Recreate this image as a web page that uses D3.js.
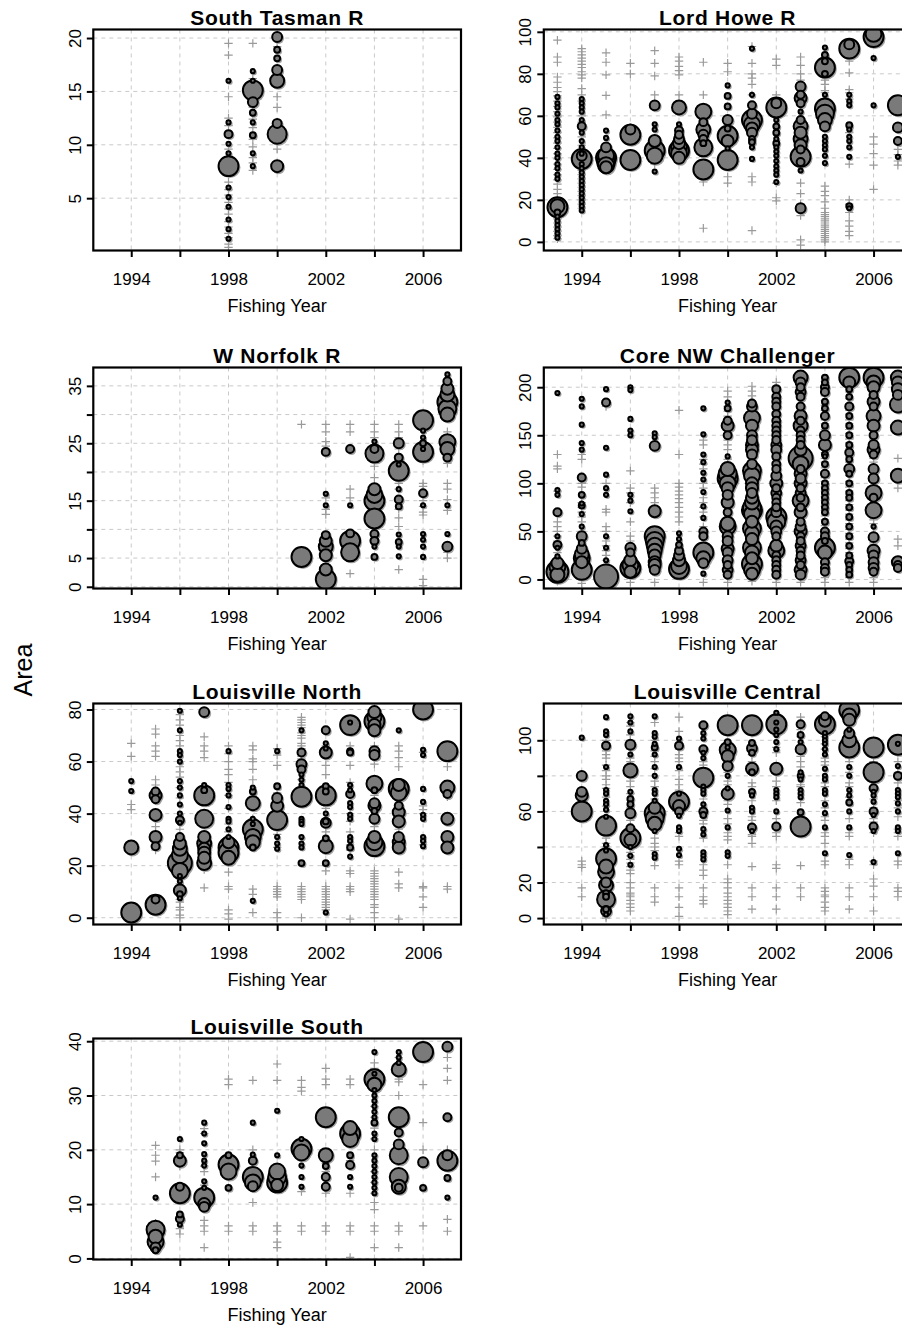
<!DOCTYPE html>
<html>
<head>
<meta charset="utf-8">
<script src="https://cdn.jsdelivr.net/npm/d3@7"></script>
<style>
  html, body { margin: 0; padding: 0; background: #fff; }
  svg { display: block; }
  text { font-family: "Liberation Sans", Arial, Helvetica, sans-serif; fill: #000; }
</style>
</head>
<body>
<svg id="chart" width="902" height="1329"></svg>
<script>
// ---- shared axis values -------------------------------------------------
const yearDomain = [1992.44, 2007.56];
const yearTicks = [1994, 1996, 1998, 2000, 2002, 2004, 2006];
const yearLabels = [1994, 1998, 2002, 2006];

// ---- South Tasman R -----------------------------------------------------
const southTasmanY = [0.1, 20.8];
const southTasmanTicks = [5, 10, 15, 20];
const southTasmanLabels = [5, 10, 15, 20];
const southTasmanPlus = [
  [1998, [19.5, 18.4, 14.5, 12.5, 11.8, 9.6, 8.8, 7.2, 6.5, 5.8, 5.3, 4.6, 4.0, 3.5, 2.8, 2.3, 1.7, 1.3, 0.7, 0.4]],
  [1999, [19.5, 16.2, 13.5, 12.4, 11.6, 10.5, 9.8, 8.8, 8.3, 7.6]],
  [2000, [19.2, 14.5, 13.5, 10.5, 9.6]]
];
const southTasmanBubbles = [
  [1998, 16, 3], [1998, 12.1, 3], [1998, 11, 11], [1998, 10.1, 3], [1998, 9.2, 3], [1998, 8, 69],
  [1998, 6, 3], [1998, 5.1, 3], [1998, 4.2, 3], [1998, 3, 3], [1998, 2.1, 3], [1998, 1.2, 3],
  [1999, 16.9, 3], [1999, 16, 3], [1999, 15.1, 69], [1999, 14, 17], [1999, 13, 6], [1999, 12.1, 3],
  [1999, 10.9, 6], [1999, 9.2, 3], [1999, 8, 3],
  [2000, 20.1, 17], [2000, 18.9, 6], [2000, 18.1, 6], [2000, 17, 17], [2000, 16, 34], [2000, 12, 14],
  [2000, 11, 63], [2000, 8, 25]
];

// ---- Lord Howe R --------------------------------------------------------
const lordHoweY = [-4.1, 101.1];
const lordHoweTicks = [0, 20, 40, 60, 80, 100];
const lordHoweLabels = [0, 20, 40, 60, 80, 100];
const lordHowePlus = [
  [1993, [96, 88, 85.5, 78.5, 76, 73.5, 71.5, 69.5, 67, 64.5, 62, 59.5, 57, 54.5, 52, 49.5, 47, 44.5, 42, 39.5, 37, 34.5, 32, 29.5, 27.5, 25, 23, 21, 13, 11, 9, 7, 5, 3, 1.5]],
  [1994, [92, 90.5, 89, 87.5, 86, 84.5, 83, 81, 79.5, 78, 73, 70, 67, 60, 57, 50, 46, 36, 34, 32, 30, 28, 26, 24, 22, 20, 18, 16]],
  [1995, [90, 85.5, 79.5, 69.7, 60.5]],
  [1996, [85, 80]],
  [1997, [91, 85, 79, 70, 66, 39, 37]],
  [1998, [88, 86, 83.5, 81.5, 79.5, 70, 66]],
  [1999, [85.5, 70, 30, 28.5, 6.5]],
  [2000, [85, 81, 31, 28]],
  [2001, [93, 85, 80, 78, 75, 70, 31, 28.5, 5.4]],
  [2002, [87, 84, 70, 62, 28, 21, 19.5]],
  [2003, [88, 84, 80, 77, 67, 28, 23, 18, 12.5, 1, -1.5]],
  [2004, [77, 75, 72, 71, 26.5, 24, 22, 19, 16, 14, 13, 12, 11, 10, 9, 8, 7, 6, 5, 4, 3, 2, 1, 0]],
  [2005, [86, 80.5, 72.5, 71, 68, 52, 37, 20, 18, 14, 10, 7.5, 5, 3]],
  [2006, [50, 46.5, 42, 36.5, 25]],
  [2007, [44, 41.5, 38.5, 36.5]]
];
const lordHoweBubbles = [
  [1993, 69, 3], [1993, 66, 3], [1993, 64, 3], [1993, 61, 3], [1993, 58, 3], [1993, 56, 3], [1993, 53, 3],
  [1993, 50, 3], [1993, 48, 3], [1993, 45, 3], [1993, 42, 3], [1993, 40, 3], [1993, 37, 3], [1993, 35, 3],
  [1993, 32, 3], [1993, 30, 3], [1993, 16.5, 69], [1993, 17, 34], [1993, 14, 6], [1993, 12, 3], [1993, 10, 3],
  [1993, 8, 3], [1993, 6, 3], [1993, 4, 3], [1993, 2, 3],
  [1994, 68, 3], [1994, 66, 3], [1994, 64, 3], [1994, 62, 3], [1994, 58, 3], [1994, 55, 11], [1994, 52, 3],
  [1994, 48, 3], [1994, 45, 3], [1994, 42, 3], [1994, 41, 17], [1994, 39.5, 69], [1994, 37, 3], [1994, 35, 3],
  [1994, 33, 3], [1994, 31, 3], [1994, 29, 3], [1994, 27, 3], [1994, 25, 3], [1994, 23, 3], [1994, 21, 3],
  [1994, 19, 3], [1994, 17, 3], [1994, 15, 3],
  [1995, 53, 3], [1995, 49.5, 3], [1995, 45, 17], [1995, 41, 44], [1995, 40, 69], [1995, 38, 56], [1995, 36.5, 44], [1995, 35.5, 25],
  [1996, 53.5, 17], [1996, 51, 69], [1996, 39, 69],
  [1997, 65, 17], [1997, 56, 3], [1997, 53.5, 3], [1997, 48, 25], [1997, 43.5, 69], [1997, 41, 44], [1997, 33.5, 3],
  [1998, 64, 34], [1998, 56, 3], [1998, 53, 11], [1998, 51, 11], [1998, 49, 17], [1998, 47, 25], [1998, 45, 44],
  [1998, 43.5, 69], [1998, 42, 44], [1998, 40, 25],
  [1999, 62, 44], [1999, 57, 11], [1999, 53.5, 34], [1999, 51, 17], [1999, 49, 11], [1999, 47, 6], [1999, 45, 56], [1999, 34.5, 69],
  [2000, 74.5, 3], [2000, 69.5, 6], [2000, 64.5, 6], [2000, 58, 17], [2000, 54, 6], [2000, 50.5, 69], [2000, 48, 25],
  [2000, 44.5, 3], [2000, 39, 69],
  [2001, 92, 3], [2001, 70, 3], [2001, 65, 11], [2001, 61, 17], [2001, 58, 69], [2001, 56, 44], [2001, 54, 25],
  [2001, 52, 17], [2001, 49, 6], [2001, 47.5, 6], [2001, 45, 3], [2001, 39.5, 3],
  [2002, 66, 17], [2002, 64, 69], [2002, 58, 3], [2002, 55, 6], [2002, 52, 6], [2002, 49, 3], [2002, 47, 6],
  [2002, 45, 3], [2002, 43, 3], [2002, 41, 3], [2002, 38.5, 3], [2002, 36, 3], [2002, 34, 3], [2002, 32, 3], [2002, 28.5, 3],
  [2003, 74, 17], [2003, 70, 11], [2003, 68.5, 25], [2003, 66, 11], [2003, 62, 3], [2003, 58, 11], [2003, 55, 34],
  [2003, 52, 25], [2003, 49, 34], [2003, 46, 25], [2003, 44, 11], [2003, 40.5, 69], [2003, 38, 11], [2003, 34, 3], [2003, 16, 17],
  [2004, 92.5, 3], [2004, 89, 6], [2004, 86, 6], [2004, 83, 69], [2004, 80, 6], [2004, 70, 3], [2004, 63.5, 69],
  [2004, 61, 56], [2004, 58, 34], [2004, 55, 17], [2004, 50, 3], [2004, 48, 3], [2004, 46, 3], [2004, 44, 3],
  [2004, 41, 3], [2004, 37.5, 3],
  [2005, 94, 17], [2005, 92, 69], [2005, 70, 3], [2005, 67, 3], [2005, 65, 3], [2005, 55.5, 6], [2005, 53.5, 3],
  [2005, 50, 3], [2005, 48, 3], [2005, 45, 3], [2005, 40.5, 3], [2005, 17, 6], [2005, 16, 3],
  [2006, 99, 44], [2006, 97.5, 69], [2006, 87.5, 3], [2006, 65, 3],
  [2007, 65, 69], [2007, 54.5, 17], [2007, 48, 11], [2007, 40.5, 3]
];

// ---- W Norfolk R --------------------------------------------------------
const wNorfolkY = [-0.3, 38.2];
const wNorfolkTicks = [0, 5, 10, 15, 20, 25, 30, 35];
const wNorfolkLabels = [0, 5, 15, 25, 35];
const wNorfolkPlus = [
  [2001, [28.3]],
  [2002, [28.3, 27, 25.3, 24.5, 15.5, 13.5, 12.6]],
  [2003, [28.3, 27, 17, 15.5, 2.3]],
  [2004, [28.3, 27, 26, 22, 21, 19, 17.5, 9]],
  [2005, [28.3, 27, 26, 24, 18, 17, 15, 13.5, 12, 10.5, 3]],
  [2006, [24, 22, 18, 17.5, 15, 14, 13, 12.5, 1.3, 0.2]],
  [2007, [27, 25.5, 21.5, 18, 17, 15.2, 13.3, 6, 5]]
];
const wNorfolkBubbles = [
  [2001, 5.2, 69],
  [2002, 23.5, 11], [2002, 16.2, 3], [2002, 14.2, 3], [2002, 9, 11], [2002, 8, 25], [2002, 7, 34], [2002, 5.5, 25],
  [2002, 3, 25], [2002, 1.3, 69],
  [2003, 24, 11], [2003, 14.2, 3], [2003, 9.3, 11], [2003, 8, 69], [2003, 6, 56],
  [2004, 25.3, 3], [2004, 24, 11], [2004, 23.2, 56], [2004, 17, 25], [2004, 16, 44], [2004, 15, 69], [2004, 11.9, 69],
  [2004, 9.2, 11], [2004, 8, 11], [2004, 7, 3], [2004, 5.2, 6],
  [2005, 25, 17], [2005, 22.5, 11], [2005, 21.3, 3], [2005, 20.2, 69], [2005, 17, 3], [2005, 15.2, 11], [2005, 14, 6],
  [2005, 9.1, 3], [2005, 7.8, 6], [2005, 7, 3], [2005, 5.3, 3],
  [2006, 29, 69], [2006, 27.2, 3], [2006, 26, 3], [2006, 25, 6], [2006, 24, 3], [2006, 23.5, 69], [2006, 16.3, 11],
  [2006, 14.2, 3], [2006, 9.2, 3], [2006, 8.2, 3], [2006, 7, 3], [2006, 5.2, 3],
  [2007, 37, 3], [2007, 35.8, 11], [2007, 34.5, 25], [2007, 33.5, 34], [2007, 32.2, 69], [2007, 31, 56], [2007, 30, 34],
  [2007, 25.2, 44], [2007, 24, 34], [2007, 22.5, 11], [2007, 14.2, 3], [2007, 9.2, 3], [2007, 7, 17]
];

// ---- Core NW Challenger -------------------------------------------------
const coreNWY = [-9.4, 220.5];
const coreNWTicks = [0, 50, 100, 150, 200];
const coreNWLabels = [0, 50, 100, 150, 200];
const coreNWPlus = [
  [1993, [130, 118, 115, 92, 60, 55, 50, 45, 40, 28, -2]],
  [1994, [130, 125, 100, 96, 80, 75, 70, 65, 60, 50, 40, 35, -4]],
  [1995, [180, 100, 73, 70, 55, 50, 40, 35, 30, 25, 20]],
  [1996, [113, 95, 90, 80, 60, 45, 40, 35, 28, -3]],
  [1997, [95, 90, 85, 80, -3]],
  [1998, [176, 130, 100, 96, 92, 88, 84, 80, 75, 70, 65, 60]],
  [1999, [145, 140, 125, 120, 115, 100, 95, 85, 80, 75, 70, 65, 55, 45, -3]],
  [2000, [196, 190, 180, 175, 170, 145, 140, 135, 125, 120, 90, 85, 60, 55, 40, -3]],
  [2001, [201, 196, 191, 186, 177, 172, 163, 157, 153, 148, 143, 138, 133, 127, 123, 118, 104, 98, 93, 88, 83, 78, 64, 57, 51, 46, 38, 36, 26, 19, 13, 8, 3, -2]],
  [2002, [205, 201, 195, 189, 183, 177, 170, 163, 158, 152, 147, 142, 137, 131, 125, 118, 112, 104, 97, 92, 86, 82, 77, 72, 67, 62, 57, 52, 47, 42, 38, 33, 27, 22, 17, 12, 7, 2, -3]],
  [2003, [203, 198, 192, 187, 182, 176, 173, 167, 162, 157, 152, 147, 142, 137, 132, 117, 112, 107, 102, 97, 92, 87, 77, 72, 67, 62, 57, 52, 47, 42, 37, 32, 27, 22, 17, 12, 7, 2, -3]],
  [2004, [206, 201, 197, 191, 186, 181, 176, 172, 166, 162, 156, 152, 146, 142, 136, 132, 126, 122, 116, 112, 106, 102, 96, 92, 86, 82, 76, 72, 66, 62, 56, 52, 46, 42, 36, 22, 16, 6, 2, -3]],
  [2005, [206, 200, 195, 188, 183, 176, 172, 166, 162, 156, 152, 146, 142, 136, 128, 122, 118, 108, 102, 96, 92, 86, 82, 78, 72, 68, 62, 58, 52, 48, 42, 38, 32, 28, 22, 16, 12, 7, 2, -3]],
  [2006, [202, 196, 188, 176, 166, 156, 146, 126, 122, 112, 102, 96, 82, 78, 66, 62, 58, 48, 38, 36, 22, 16, 6, 2, -3]],
  [2007, [126, 95, 42, 35]]
];
const coreNWBubbles = [
  [1993, 194, 3], [1993, 93, 3], [1993, 88, 3], [1993, 70, 11], [1993, 45, 3], [1993, 36, 11], [1993, 33, 3],
  [1993, 24, 3], [1993, 17, 25], [1993, 13, 44], [1993, 8, 84], [1993, 5, 34],
  [1994, 188, 3], [1994, 180, 3], [1994, 161, 3], [1994, 142, 3], [1994, 135, 3], [1994, 106, 11], [1994, 88, 6],
  [1994, 79, 3], [1994, 77, 6], [1994, 68, 3], [1994, 55, 3], [1994, 45, 17], [1994, 38, 6], [1994, 32, 17],
  [1994, 26, 34], [1994, 22, 44], [1994, 18, 25], [1994, 10, 69],
  [1995, 198, 3], [1995, 184, 11], [1995, 137, 3], [1995, 109, 3], [1995, 95, 3], [1995, 88, 3], [1995, 45, 3],
  [1995, 33, 3], [1995, 20, 3], [1995, 3, 100],
  [1996, 200, 3], [1996, 197, 3], [1996, 167, 3], [1996, 155, 3], [1996, 150, 3], [1996, 88, 3], [1996, 82, 3],
  [1996, 71, 3], [1996, 33, 17], [1996, 28, 11], [1996, 20, 25], [1996, 15, 44], [1996, 12, 69], [1996, 8, 25],
  [1997, 152, 3], [1997, 148, 3], [1997, 139, 17], [1997, 71, 25], [1997, 45, 69], [1997, 40, 56], [1997, 35, 44],
  [1997, 30, 34], [1997, 25, 25], [1997, 18, 25], [1997, 15, 25], [1997, 10, 17],
  [1998, 48, 3], [1998, 42, 3], [1998, 36, 6], [1998, 30, 11], [1998, 25, 17], [1998, 20, 25], [1998, 14, 44], [1998, 11, 69],
  [1999, 178, 3], [1999, 151, 3], [1999, 130, 3], [1999, 122, 3], [1999, 111, 3], [1999, 104, 3], [1999, 91, 3],
  [1999, 76, 3], [1999, 64, 3], [1999, 50, 11], [1999, 45, 11], [1999, 28, 69], [1999, 22, 34], [1999, 17, 17], [1999, 6, 3],
  [2000, 184, 3], [2000, 178, 6], [2000, 165, 11], [2000, 160, 25], [2000, 150, 11], [2000, 128, 3], [2000, 115, 34],
  [2000, 110, 56], [2000, 105, 69], [2000, 100, 44], [2000, 95, 25], [2000, 88, 17], [2000, 80, 25], [2000, 70, 11],
  [2000, 58, 34], [2000, 55, 44], [2000, 45, 17], [2000, 40, 17], [2000, 32, 25], [2000, 28, 17], [2000, 20, 17],
  [2000, 15, 11], [2000, 10, 17], [2000, 5, 11],
  [2001, 183, 11], [2001, 180, 17], [2001, 168, 44], [2001, 160, 25], [2001, 150, 17], [2001, 145, 17], [2001, 140, 25],
  [2001, 135, 25], [2001, 130, 17], [2001, 120, 17], [2001, 113, 56], [2001, 108, 44], [2001, 100, 25], [2001, 95, 25],
  [2001, 90, 17], [2001, 85, 25], [2001, 80, 34], [2001, 75, 56], [2001, 72, 69], [2001, 68, 44], [2001, 60, 25],
  [2001, 53, 56], [2001, 48, 34], [2001, 42, 25], [2001, 33, 56], [2001, 28, 34], [2001, 22, 25], [2001, 16, 69],
  [2001, 10, 44], [2001, 6, 25],
  [2002, 198, 11], [2002, 190, 11], [2002, 185, 11], [2002, 180, 11], [2002, 172, 11], [2002, 165, 11], [2002, 160, 11],
  [2002, 155, 11], [2002, 150, 11], [2002, 145, 11], [2002, 140, 17], [2002, 135, 17], [2002, 128, 11], [2002, 120, 11],
  [2002, 115, 11], [2002, 108, 17], [2002, 100, 25], [2002, 95, 11], [2002, 90, 17], [2002, 85, 11], [2002, 80, 11],
  [2002, 75, 11], [2002, 70, 17], [2002, 65, 69], [2002, 60, 56], [2002, 55, 25], [2002, 50, 17], [2002, 45, 11],
  [2002, 35, 25], [2002, 30, 44], [2002, 25, 11], [2002, 20, 11], [2002, 15, 11], [2002, 10, 11], [2002, 5, 11],
  [2003, 210, 34], [2003, 205, 17], [2003, 200, 11], [2003, 195, 17], [2003, 190, 11], [2003, 180, 11], [2003, 170, 25],
  [2003, 165, 11], [2003, 160, 34], [2003, 155, 11], [2003, 150, 11], [2003, 145, 11], [2003, 140, 11], [2003, 135, 25],
  [2003, 126, 100], [2003, 120, 44], [2003, 115, 11], [2003, 110, 25], [2003, 105, 17], [2003, 100, 25], [2003, 95, 11],
  [2003, 90, 17], [2003, 85, 11], [2003, 82, 44], [2003, 75, 11], [2003, 70, 25], [2003, 60, 11], [2003, 55, 17],
  [2003, 50, 25], [2003, 45, 11], [2003, 40, 11], [2003, 35, 17], [2003, 30, 11], [2003, 25, 11], [2003, 20, 17],
  [2003, 15, 11], [2003, 10, 25], [2003, 5, 17],
  [2004, 210, 6], [2004, 205, 6], [2004, 200, 11], [2004, 195, 11], [2004, 185, 6], [2004, 178, 6], [2004, 170, 11],
  [2004, 160, 6], [2004, 150, 17], [2004, 140, 25], [2004, 130, 6], [2004, 128, 3], [2004, 120, 6], [2004, 110, 11],
  [2004, 100, 6], [2004, 95, 6], [2004, 90, 6], [2004, 85, 6], [2004, 80, 6], [2004, 75, 6], [2004, 70, 6],
  [2004, 60, 6], [2004, 50, 11], [2004, 45, 11], [2004, 40, 6], [2004, 33, 69], [2004, 28, 34], [2004, 18, 11],
  [2004, 12, 11], [2004, 8, 11],
  [2005, 210, 69], [2005, 205, 25], [2005, 198, 6], [2005, 190, 6], [2005, 180, 11], [2005, 170, 6], [2005, 160, 6],
  [2005, 150, 6], [2005, 140, 6], [2005, 132, 11], [2005, 125, 6], [2005, 115, 17], [2005, 110, 6], [2005, 100, 6],
  [2005, 90, 6], [2005, 85, 6], [2005, 75, 6], [2005, 65, 6], [2005, 55, 6], [2005, 45, 6], [2005, 35, 6],
  [2005, 25, 6], [2005, 19, 11], [2005, 15, 6], [2005, 10, 6], [2005, 5, 6],
  [2006, 210, 69], [2006, 205, 34], [2006, 200, 25], [2006, 192, 11], [2006, 185, 25], [2006, 180, 11], [2006, 170, 34],
  [2006, 160, 25], [2006, 150, 11], [2006, 140, 17], [2006, 135, 25], [2006, 130, 11], [2006, 115, 17], [2006, 105, 17],
  [2006, 90, 44], [2006, 85, 11], [2006, 72, 44], [2006, 55, 3], [2006, 44, 17], [2006, 30, 25], [2006, 25, 17],
  [2006, 18, 17], [2006, 12, 17], [2006, 8, 11],
  [2007, 210, 34], [2007, 205, 25], [2007, 198, 25], [2007, 192, 17], [2007, 182, 44], [2007, 158, 34], [2007, 108, 34],
  [2007, 18, 25], [2007, 15, 11], [2007, 12, 11]
];

// ---- Louisville North ---------------------------------------------------
const louisvilleNorthY = [-2.6, 82.3];
const louisvilleNorthTicks = [0, 20, 40, 60, 80];
const louisvilleNorthLabels = [0, 20, 40, 60, 80];
const louisvilleNorthPlus = [
  [1994, [67, 62, 43.5, 41.5]],
  [1995, [72.5, 70.5, 66, 64, 62, 53, 51, 46, 35, 33, 26]],
  [1996, [78, 76, 74, 70, 68, 66, 58, 56, 54, 50, 46, 34, 20, 15, 13, 12, 9, 7, 6, 4, 3, 1, 0]],
  [1997, [69.5, 66, 64, 61.5, 47.5, 30.5, 28, 25, 23, 20, 18.5, 11.5]],
  [1998, [66, 63, 60, 57, 55, 52, 47, 42, 36, 33, 17.5, 12, 11, 3, 1.5, -0.5]],
  [1999, [66, 64.5, 61, 60, 57, 53, 38, 11, 9, 2]],
  [2000, [65, 62.5, 58.5, 48, 46, 40, 32, 27, 12, 11, 10, 9, 8, 2, 0]],
  [2001, [77, 76, 75, 74, 73, 71, 70, 69, 67, 66, 65, 62, 61, 53, 50, 12, 11, 10, 9, 8, 7, 0]],
  [2002, [66, 64, 58.5, 55, 42, 35, 33, 20, 18, 12, 11, 10, 9, 8, 7, 6, 5, 4, 3]],
  [2003, [66, 64, 58.5, 52, 40, 37, 33, 28, 26, 18, 17, 12, 11, 10, -0.5]],
  [2004, [66, 62, 59, 47, 45, 35, 33, 18, 17, 16, 15, 14, 13, 12, 11, 10, 9, 8, 7, 5, 4, 2, 0]],
  [2005, [66, 64, 61.5, 58, 44, 35, 34, 17.5, 13, 11.5, -0.5]],
  [2006, [63.5, 43, 41.5, 40, 28, 12, 11.5, 8, 4]],
  [2007, [58, 48, 46.5, 12, 11]]
];
const louisvilleNorthBubbles = [
  [1994, 52.5, 3], [1994, 48.7, 3], [1994, 27, 34], [1994, 2, 69],
  [1995, 48.5, 11], [1995, 47, 25], [1995, 45.5, 11], [1995, 39.5, 25], [1995, 31, 25], [1995, 27.5, 11], [1995, 7, 11], [1995, 5, 69],
  [1996, 79.5, 3], [1996, 72, 3], [1996, 64, 3], [1996, 62.5, 3], [1996, 60, 3], [1996, 52.5, 3], [1996, 50, 3],
  [1996, 47, 3], [1996, 43.5, 3], [1996, 40, 3], [1996, 37.5, 11], [1996, 36.5, 3], [1996, 31, 11], [1996, 28.5, 25],
  [1996, 26.5, 34], [1996, 24, 44], [1996, 21, 100], [1996, 18, 44], [1996, 16, 3], [1996, 14, 3], [1996, 10.5, 25],
  [1996, 9, 6], [1996, 7.5, 3],
  [1997, 79, 17], [1997, 51, 3], [1997, 49, 6], [1997, 47, 69], [1997, 38, 56], [1997, 31, 25], [1997, 28.5, 34],
  [1997, 26.5, 25], [1997, 25, 25], [1997, 23, 25], [1997, 21, 34],
  [1998, 64, 3], [1998, 51, 3], [1998, 49.5, 3], [1998, 47, 3], [1998, 42.5, 3], [1998, 38, 3], [1998, 37, 3],
  [1998, 34, 3], [1998, 31, 3], [1998, 29, 25], [1998, 27, 69], [1998, 25, 69], [1998, 23, 34],
  [1999, 50, 3], [1999, 48.5, 6], [1999, 44, 34], [1999, 38, 3], [1999, 36, 3], [1999, 34, 69], [1999, 31, 44],
  [1999, 29, 34], [1999, 27, 6], [1999, 6.5, 3],
  [2000, 64, 3], [2000, 50.5, 6], [2000, 46, 17], [2000, 43, 25], [2000, 37.5, 69], [2000, 31, 3], [2000, 28.5, 3], [2000, 26.5, 3],
  [2001, 72, 3], [2001, 63.5, 11], [2001, 59, 17], [2001, 57, 11], [2001, 55, 3], [2001, 53, 3], [2001, 51, 3],
  [2001, 46.5, 69], [2001, 38, 3], [2001, 37, 3], [2001, 36, 3], [2001, 31, 3], [2001, 28.5, 3], [2001, 27, 3], [2001, 21, 6],
  [2002, 72, 11], [2002, 67, 3], [2002, 65, 3], [2002, 63.5, 25], [2002, 50.5, 6], [2002, 48.5, 6], [2002, 47, 69],
  [2002, 40, 3], [2002, 37, 6], [2002, 36.5, 17], [2002, 30.5, 6], [2002, 27.5, 34], [2002, 21, 6], [2002, 2, 3],
  [2003, 75, 3], [2003, 74, 69], [2003, 64, 6], [2003, 63.5, 6], [2003, 51, 3], [2003, 49, 3], [2003, 47.5, 11],
  [2003, 44, 3], [2003, 42.5, 3], [2003, 39.5, 3], [2003, 38, 3], [2003, 31, 3], [2003, 29.5, 3], [2003, 27, 6], [2003, 23.5, 3],
  [2004, 79, 25], [2004, 77, 34], [2004, 75.5, 69], [2004, 74, 25], [2004, 72, 25], [2004, 64, 17], [2004, 62.5, 17],
  [2004, 51.5, 44], [2004, 49, 6], [2004, 44, 17], [2004, 43, 25], [2004, 41, 6], [2004, 38, 17], [2004, 31, 25],
  [2004, 29, 44], [2004, 27.5, 69],
  [2005, 72, 3], [2005, 51, 25], [2005, 49.5, 69], [2005, 48, 44], [2005, 43, 11], [2005, 40.5, 25], [2005, 37, 25],
  [2005, 31, 17], [2005, 29, 25], [2005, 27, 25],
  [2006, 80, 69], [2006, 64.5, 3], [2006, 62.5, 3], [2006, 49.5, 3], [2006, 44.5, 3], [2006, 39.5, 3], [2006, 38, 3],
  [2006, 31, 3], [2006, 29.5, 3], [2006, 27.5, 3],
  [2007, 64, 69], [2007, 50, 34], [2007, 47.5, 11], [2007, 38, 25], [2007, 31, 25], [2007, 27, 25]
];

// ---- Louisville Central -------------------------------------------------
const louisvilleCentralY = [-3.6, 120.7];
const louisvilleCentralTicks = [0, 20, 40, 60, 80, 100];
const louisvilleCentralLabels = [0, 20, 60, 100];
const louisvilleCentralPlus = [
  [1994, [32, 30, 28.5, 17, 12]],
  [1995, [100, 98, 94, 92, 90, 86, 83, 80, 78, 75, 73, 68, 63, 55, 48, 45, 42, 40, 22, 16, 8, 6, 3, 1, 0]],
  [1996, [110, 108, 103, 100, 95, 90, 88, 85, 80, 77, 74, 70, 62, 55, 42, 39, 37, 35, 33, 31, 29, 27, 25, 20, 17, 14, 13, 12, 10, 8, 6, 4]],
  [1997, [110, 100, 94, 91, 88, 84, 77, 74, 67, 45, 42, 40, 38, 29.5, 17, 12, 9]],
  [1998, [113, 105, 95, 92, 90, 88, 83, 78, 75, 72, 68, 62, 48, 46, 32, 30, 17, 12, 6, 1]],
  [1999, [93, 88, 86, 82, 78, 76, 67, 62, 55, 53, 45, 30, 27, 24, 17, 12, 10, 8]],
  [2000, [95, 90, 88, 82, 77, 75, 66, 64, 56, 53, 48, 46, 44, 30, 22, 20, 17, 14, 12, 10, 8, 6, 4, 2]],
  [2001, [104, 92, 88, 86, 76, 74, 66, 57, 55, 47, 46, 42, 29, 17, 12, 5]],
  [2002, [112, 103, 96, 93, 82, 77, 74, 66, 56, 48, 46, 30, 28, 17, 12, 5]],
  [2003, [113, 110, 106, 102, 91, 88, 85, 75, 74, 65, 29.5, 17, 12]],
  [2004, [102, 98, 95, 90, 88, 86, 76, 74, 66, 62, 57, 55, 48, 46, 42, 32, 30, 17, 15, 13, 12, 9, 6, 4]],
  [2005, [98, 92, 90, 88, 82, 76, 74, 68, 56, 48, 46, 33, 30, 17, 12, 5]],
  [2006, [95, 88, 85, 67, 62, 56, 54, 48, 32, 30, 22, 18, 12, 4]],
  [2007, [93, 88, 82, 76, 66, 62, 57, 50, 48, 46, 32, 30, 17, 15, 12]]
];
const louisvilleCentralBubbles = [
  [1994, 101.5, 3], [1994, 80, 17], [1994, 71, 17], [1994, 69, 25], [1994, 60, 69],
  [1995, 113, 3], [1995, 105, 3], [1995, 103, 3], [1995, 97, 11], [1995, 85, 3], [1995, 72, 3], [1995, 70, 3],
  [1995, 66, 3], [1995, 64, 3], [1995, 61, 3], [1995, 57, 3], [1995, 52, 69], [1995, 41, 3], [1995, 38, 3],
  [1995, 33.5, 69], [1995, 29, 34], [1995, 26, 44], [1995, 20, 17], [1995, 18.5, 34], [1995, 14, 6], [1995, 12, 6],
  [1995, 10.5, 56], [1995, 5, 6], [1995, 4, 17], [1995, 2, 3],
  [1996, 113.5, 3], [1996, 110, 3], [1996, 105, 3], [1996, 97.5, 17], [1996, 92, 3], [1996, 83, 34], [1996, 71, 3],
  [1996, 67, 6], [1996, 64, 6], [1996, 59, 17], [1996, 50.5, 11], [1996, 45, 69], [1996, 44, 25], [1996, 40, 3],
  [1996, 35, 3], [1996, 30, 3],
  [1997, 113.5, 3], [1997, 104, 3], [1997, 102, 3], [1997, 98, 3], [1997, 96, 6], [1997, 92, 3], [1997, 85, 3],
  [1997, 80, 3], [1997, 72, 3], [1997, 70, 3], [1997, 66, 3], [1997, 62, 25], [1997, 59, 69], [1997, 56, 56],
  [1997, 53, 34], [1997, 49, 3], [1997, 36, 3], [1997, 34, 3],
  [1998, 101, 3], [1998, 97, 11], [1998, 85, 3], [1998, 70, 3], [1998, 65.5, 69], [1998, 63, 25], [1998, 60, 11],
  [1998, 57.5, 3], [1998, 51, 3], [1998, 49, 3], [1998, 39, 3], [1998, 35.5, 3],
  [1999, 108.5, 11], [1999, 104, 3], [1999, 101, 3], [1999, 95, 11], [1999, 93, 3], [1999, 90, 3], [1999, 79, 69],
  [1999, 74, 3], [1999, 72, 3], [1999, 70, 3], [1999, 64, 3], [1999, 60, 11], [1999, 58, 6], [1999, 50, 3],
  [1999, 47, 3], [1999, 37, 3], [1999, 35, 3], [1999, 33, 3],
  [2000, 108.5, 69], [2000, 99, 6], [2000, 96, 3], [2000, 94.5, 44], [2000, 91, 25], [2000, 85.5, 17], [2000, 80, 3],
  [2000, 73, 3], [2000, 70, 25], [2000, 60.5, 3], [2000, 51, 3], [2000, 37, 3], [2000, 35, 3],
  [2001, 108.5, 69], [2001, 98.5, 6], [2001, 95.5, 17], [2001, 93, 6], [2001, 84, 25], [2001, 82, 6], [2001, 71, 6],
  [2001, 69, 3], [2001, 62, 3], [2001, 60, 3], [2001, 51, 11], [2001, 49, 3],
  [2002, 115.5, 3], [2002, 110, 3], [2002, 109, 69], [2002, 106, 3], [2002, 103, 3], [2002, 99, 3], [2002, 95, 3],
  [2002, 84, 25], [2002, 72, 3], [2002, 70, 3], [2002, 68, 3], [2002, 60, 3], [2002, 51.5, 11],
  [2003, 109, 11], [2003, 103, 6], [2003, 99, 3], [2003, 95, 17], [2003, 82, 3], [2003, 80, 6], [2003, 78, 3],
  [2003, 72, 3], [2003, 70, 3], [2003, 68, 3], [2003, 59.5, 6], [2003, 51.5, 69],
  [2004, 113.5, 11], [2004, 111, 25], [2004, 109, 69], [2004, 104, 3], [2004, 102, 3], [2004, 100, 3], [2004, 98, 3],
  [2004, 95, 3], [2004, 92, 3], [2004, 84, 3], [2004, 80, 3], [2004, 78, 3], [2004, 72, 3], [2004, 70, 3],
  [2004, 64, 3], [2004, 59, 3], [2004, 51, 3], [2004, 36.5, 3],
  [2005, 117, 69], [2005, 114, 34], [2005, 111.5, 25], [2005, 106, 3], [2005, 104, 17], [2005, 100, 34], [2005, 96, 69],
  [2005, 85, 3], [2005, 80, 3], [2005, 72, 3], [2005, 69, 3], [2005, 65, 6], [2005, 60, 3], [2005, 51, 3], [2005, 35.5, 3],
  [2006, 96, 69], [2006, 82, 69], [2006, 73, 11], [2006, 71, 3], [2006, 69, 3], [2006, 65.5, 3], [2006, 60, 11],
  [2006, 58, 3], [2006, 51.5, 11], [2006, 49, 3], [2006, 31.5, 3],
  [2007, 98, 3], [2007, 97.5, 69], [2007, 85.5, 3], [2007, 80, 11], [2007, 72, 3], [2007, 70, 3], [2007, 68, 3],
  [2007, 64.5, 3], [2007, 60, 3], [2007, 51, 3], [2007, 49, 3], [2007, 36.5, 3]
];

// ---- Louisville South ---------------------------------------------------
const louisvilleSouthY = [-0.2, 40.5];
const louisvilleSouthTicks = [0, 10, 20, 30, 40];
const louisvilleSouthLabels = [0, 10, 20, 30, 40];
const louisvilleSouthPlus = [
  [1995, [20.8, 19, 17.9, 15, 6.5, 1.5]],
  [1996, [20, 19.5, 17, 5.5, 4.5]],
  [1997, [23.9, 23, 17, 16, 13.5, 7, 6, 5, 2]],
  [1998, [33, 32, 16, 15, 6, 5]],
  [1999, [32.8, 20, 18.5, 16, 10.3, 6, 5]],
  [2000, [35.8, 32.8, 6, 5, 3, 2]],
  [2001, [32.8, 31.5, 30.8, 12.3, 6, 5]],
  [2002, [35, 33, 32, 19.5, 17.5, 16, 12, 6, 5]],
  [2003, [33, 32, 18, 12, 6, 5, 0.2]],
  [2004, [36, 35, 31, 28, 26, 24, 22, 20, 16, 14, 12, 10.3, 9, 6, 5, 2]],
  [2005, [37, 36, 33, 32.5, 30, 20, 6, 5, 2]],
  [2006, [32, 25, 20, 6]],
  [2007, [37, 35, 32.8, 20, 7.2, 5]]
];
const louisvilleSouthBubbles = [
  [1995, 11.2, 3], [1995, 5.3, 56], [1995, 4, 34], [1995, 3, 44], [1995, 2, 17], [1995, 1.5, 6],
  [1996, 22, 3], [1996, 19, 6], [1996, 18, 25], [1996, 13.2, 11], [1996, 12, 69], [1996, 8.1, 6], [1996, 7.3, 11], [1996, 6.2, 3],
  [1997, 25, 3], [1997, 23, 3], [1997, 21.2, 3], [1997, 19.2, 3], [1997, 18, 3], [1997, 17.1, 3], [1997, 14.2, 3],
  [1997, 13, 3], [1997, 11.2, 69], [1997, 10, 25], [1997, 9.5, 17],
  [1998, 19, 6], [1998, 17.3, 69], [1998, 16, 44], [1998, 13, 6],
  [1999, 25, 3], [1999, 19.1, 3], [1999, 18, 11], [1999, 15, 69], [1999, 14, 44], [1999, 13.3, 17],
  [2000, 27.2, 3], [2000, 19, 3], [2000, 16, 44], [2000, 15, 56], [2000, 14, 69], [2000, 13.5, 25],
  [2001, 22, 3], [2001, 20.2, 69], [2001, 19.5, 44], [2001, 17.1, 3], [2001, 15, 3], [2001, 13.2, 3],
  [2002, 26, 69], [2002, 19, 34], [2002, 17, 6], [2002, 15, 11], [2002, 13.2, 11],
  [2003, 24, 34], [2003, 23, 69], [2003, 22, 44], [2003, 19, 6], [2003, 17.2, 11], [2003, 15, 3], [2003, 13.2, 3],
  [2004, 38, 3], [2004, 34, 3], [2004, 33, 69], [2004, 32, 34], [2004, 31, 3], [2004, 30, 3], [2004, 29, 3],
  [2004, 28, 3], [2004, 27, 3], [2004, 26, 3], [2004, 25, 6], [2004, 23, 3], [2004, 22, 3], [2004, 19, 3],
  [2004, 18, 3], [2004, 17, 3], [2004, 16, 3], [2004, 15, 3], [2004, 14, 3], [2004, 13, 3], [2004, 12, 3],
  [2005, 38, 3], [2005, 37, 3], [2005, 36, 3], [2005, 34.8, 34], [2005, 26, 69], [2005, 23.2, 11], [2005, 21, 17],
  [2005, 19, 56], [2005, 15, 56], [2005, 13.2, 34], [2005, 13, 11],
  [2006, 38, 69], [2006, 17.7, 17], [2006, 13, 6],
  [2007, 39, 17], [2007, 26, 11], [2007, 19, 17], [2007, 18, 69], [2007, 14.8, 6], [2007, 11.2, 3]
];

// ---- layout ------------------------------------------------------------
const panelW = 367.7, panelH = 221;
const colLeft = [93.3, 543.8];
const rowTop = [29.5, 367.5, 703.5, 1038.5];

const panels = [
  { title: "South Tasman R", y: southTasmanY, ticks: southTasmanTicks, labels: southTasmanLabels, plus: southTasmanPlus, bubbles: southTasmanBubbles, col: 0, row: 0 },
  { title: "Lord Howe R", y: lordHoweY, ticks: lordHoweTicks, labels: lordHoweLabels, plus: lordHowePlus, bubbles: lordHoweBubbles, col: 1, row: 0 },
  { title: "W Norfolk R", y: wNorfolkY, ticks: wNorfolkTicks, labels: wNorfolkLabels, plus: wNorfolkPlus, bubbles: wNorfolkBubbles, col: 0, row: 1 },
  { title: "Core NW Challenger", y: coreNWY, ticks: coreNWTicks, labels: coreNWLabels, plus: coreNWPlus, bubbles: coreNWBubbles, col: 1, row: 1 },
  { title: "Louisville North", y: louisvilleNorthY, ticks: louisvilleNorthTicks, labels: louisvilleNorthLabels, plus: louisvilleNorthPlus, bubbles: louisvilleNorthBubbles, col: 0, row: 2 },
  { title: "Louisville Central", y: louisvilleCentralY, ticks: louisvilleCentralTicks, labels: louisvilleCentralLabels, plus: louisvilleCentralPlus, bubbles: louisvilleCentralBubbles, col: 1, row: 2 },
  { title: "Louisville South", y: louisvilleSouthY, ticks: louisvilleSouthTicks, labels: louisvilleSouthLabels, plus: louisvilleSouthPlus, bubbles: louisvilleSouthBubbles, col: 0, row: 3 }
];

const svg = d3.select("#chart");
const x = d3.scaleLinear().domain(yearDomain).range([0, panelW]);
const r = d3.scaleSqrt().domain([0, 100]).range([0, 12]);
const plusPath = "M-4.2,0H4.2M0,-4.2V4.2";
const fontStack = "Liberation Sans, Arial, sans-serif";

// shared y-axis title
svg.append("text")
  .attr("transform", "translate(32,670) rotate(-90)")
  .attr("text-anchor", "middle")
  .style("font-size", "25px")
  .text("Area");

panels.forEach((p, i) => {
  const g = svg.append("g")
    .attr("transform", `translate(${colLeft[p.col]},${rowTop[p.row]})`);
  const y = d3.scaleLinear().domain(p.y).range([panelH, 0]);

  const clipId = "clip" + i;
  g.append("clipPath").attr("id", clipId)
    .append("rect").attr("width", panelW).attr("height", panelH);

  // dashed grid
  const grid = g.append("g").attr("stroke", "#c9c9c9").attr("stroke-width", 1)
    .attr("stroke-dasharray", "4,4");
  grid.selectAll("line.v").data(yearTicks).join("line")
    .attr("x1", d => x(d)).attr("x2", d => x(d))
    .attr("y1", 0).attr("y2", panelH);
  grid.selectAll("line.h").data(p.ticks).join("line")
    .attr("x1", 0).attr("x2", panelW)
    .attr("y1", d => y(d)).attr("y2", d => y(d));

  const plot = g.append("g").attr("clip-path", `url(#${clipId})`);

  // grey + markers
  const plusPts = p.plus.flatMap(([yr, vals]) => vals.map(v => [yr, v]));
  plot.append("g").selectAll("path").data(plusPts).join("path")
    .attr("transform", d => `translate(${x(d[0])},${y(d[1])})`)
    .attr("d", plusPath)
    .attr("stroke", "#9a9a9a").attr("stroke-width", 1.2).attr("fill", "none");

  // bubbles, largest first so small ones stay on top
  const bub = p.bubbles.slice().sort((a, b) => b[2] - a[2]);
  plot.append("g").selectAll("circle").data(bub).join("circle")
    .attr("cx", d => x(d[0]) + 1.4).attr("cy", d => y(d[1]) + 1.4)
    .attr("r", d => r(d[2]) + 0.6)
    .attr("fill", "#a3a3a3");
  plot.append("g").selectAll("circle").data(bub).join("circle")
    .attr("cx", d => x(d[0])).attr("cy", d => y(d[1]))
    .attr("r", d => r(d[2]))
    .attr("fill", "#7a7a7a").attr("stroke", "#000").attr("stroke-width", 2);

  // frame
  g.append("rect").attr("width", panelW).attr("height", panelH)
    .attr("fill", "none").attr("stroke", "#000").attr("stroke-width", 2.2);

  // x axis
  const xAxis = d3.axisBottom(x).tickValues(yearTicks).tickSize(6.5)
    .tickFormat(d => yearLabels.includes(d) ? String(d) : "");
  const xg = g.append("g").attr("transform", `translate(0,${panelH})`).call(xAxis);
  xg.select(".domain").remove();
  xg.selectAll(".tick line").attr("stroke", "#000").attr("stroke-width", 2);
  xg.selectAll(".tick text").attr("y", 22).attr("dy", "0.71em")
    .style("font-size", "17px").style("font-family", fontStack).attr("fill", "#000");

  // y axis with rotated labels
  const yAxis = d3.axisLeft(y).tickValues(p.ticks).tickSize(6.5)
    .tickFormat(d => p.labels.includes(d) ? String(d) : "");
  const yg = g.append("g").call(yAxis);
  yg.select(".domain").remove();
  yg.selectAll(".tick line").attr("stroke", "#000").attr("stroke-width", 2);
  yg.selectAll(".tick text")
    .attr("x", null).attr("dy", null)
    .attr("text-anchor", "middle")
    .attr("transform", "translate(-12.5,0) rotate(-90)")
    .style("font-size", "17px").style("font-family", fontStack).attr("fill", "#000");

  // titles
  g.append("text").attr("x", panelW / 2).attr("y", -4.5)
    .attr("text-anchor", "middle")
    .style("font-size", "21px").style("font-weight", "bold")
    .style("letter-spacing", "0.7px")
    .text(p.title);
  g.append("text").attr("x", panelW / 2).attr("y", panelH + 61)
    .attr("text-anchor", "middle")
    .style("font-size", "18px")
    .text("Fishing Year");
});
</script>
</body>
</html>
